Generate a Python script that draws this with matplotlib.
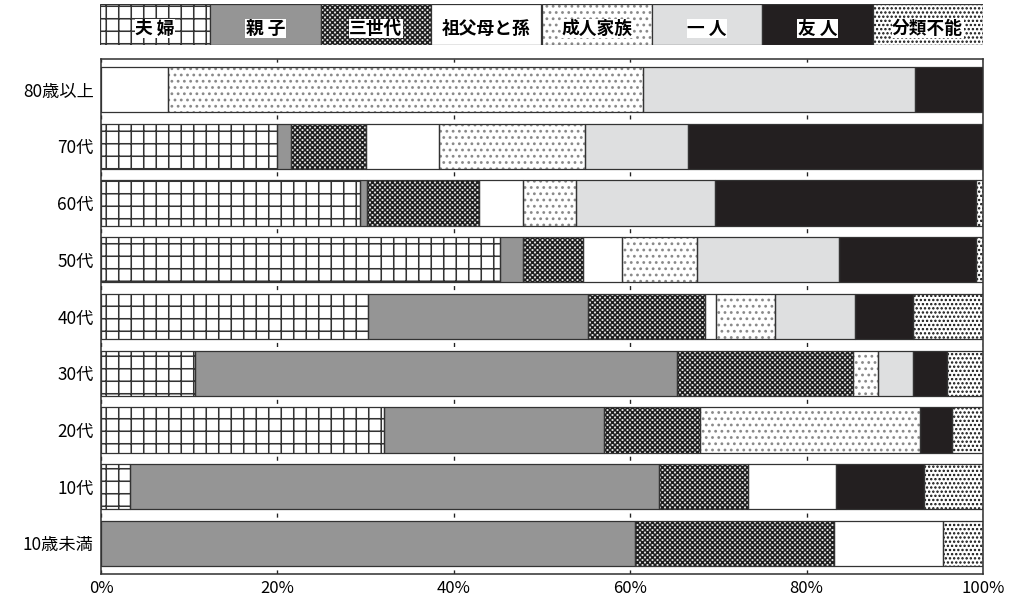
import numpy as np
import matplotlib.pyplot as plt

plt.rcParams['font.family'] = ['Noto Sans CJK JP', 'DejaVu Sans']
plt.rcParams['hatch.linewidth'] = 1.5

ages = ['80歳以上', '70代', '60代', '50代', '40代', '30代', '20代', '10代', '10歳未満']
series = ['夫婦', '親子', '三世代', '祖父母と孫', '成人家族', '一人', '友人', '分類不能']
legend_labels = ['夫 婦', '親 子', '三世代', '祖父母と孫', '成人家族', '一 人', '友 人', '分類不能']

fufu = [0, 20.0, 29.4, 45.2, 30.3, 10.7, 32.1, 3.3, 0]
oyako = [0, 1.5, 0.8, 2.6, 24.9, 54.6, 24.9, 60.0, 60.5]
sansedai = [0, 8.5, 12.7, 6.8, 13.3, 20.0, 10.9, 10.1, 22.6]
sofubo = [7.6, 8.3, 4.9, 4.5, 1.2, 0, 0, 9.9, 12.4]
seijin = [53.9, 16.6, 6.1, 8.5, 6.7, 2.8, 25.0, 0, 0]
hitori = [30.8, 11.7, 15.7, 16.1, 9.1, 4.0, 0, 0, 0]
yujin = [7.7, 33.4, 29.6, 15.5, 6.6, 3.8, 3.6, 10.0, 0]
bunrui = [0, 0, 0.8, 0.8, 7.9, 4.1, 3.5, 6.7, 4.5]

data = [fufu, oyako, sansedai, sofubo, seijin, hitori, yujin, bunrui]

# facecolor, hatch, hatch colour
styles = [
    ('white', '+', '#333333'),
    ('#959595', '', '#959595'),
    ('#e0e0e0', 'xxxxx', '#1e1e1e'),
    ('white', '', 'white'),
    ('white', '..', '#8a8a8a'),
    ('#dedfe0', '', '#dedfe0'),
    ('#231f20', '', '#231f20'),
    ('white', '...', '#111111'),
]
outline = '#333333'

fig = plt.figure(figsize=(1012 / 75, 604 / 75), dpi=75)
ax = fig.add_axes([101 / 1012, 1 - 574 / 604, 882 / 1012, 515 / 604])

y = np.arange(len(ages))
left = np.zeros(len(ages))
for vals, (fc, h, hc) in zip(data, styles):
    v = np.array(vals)
    m = v > 0
    ax.barh(y[m], v[m], left=left[m], height=0.8, color=fc, hatch=h,
            edgecolor=hc, linewidth=0, zorder=2)
    ax.barh(y[m], v[m], left=left[m], height=0.8, fill=False,
            edgecolor=outline, linewidth=1.2, zorder=3)
    left += v

ax.set_xlim(0, 100)
ax.set_ylim(len(ages) - 0.46, -0.54)
ax.set_yticks(y)
ax.set_yticklabels(ages, fontsize=16.5)
ax.set_xticks([0, 20, 40, 60, 80, 100])
ax.set_xticklabels(['0%', '20%', '40%', '60%', '80%', '100%'], fontsize=16)
ax.tick_params(axis='y', length=0, pad=7)
ax.tick_params(axis='x', length=0, pad=6)
ax.xaxis.grid(True, linestyle=(0, (3, 4)), color='#222222', linewidth=1.3)
ax.set_axisbelow(True)
for s in ax.spines.values():
    s.set_color('#333333')
    s.set_linewidth(1.5)

# legend row of boxes
lax = fig.add_axes([100 / 1012, 1 - 45 / 604, 883 / 1012, 41 / 604])
lx = np.arange(len(series))
for i, (fc, h, hc) in enumerate(styles):
    lax.bar(lx[i], 1, width=1, align='edge', color=fc, hatch=h,
            edgecolor=hc, linewidth=0)
    lax.bar(lx[i], 1, width=1, align='edge', fill=False,
            edgecolor=outline, linewidth=1.2)
    lax.text(lx[i] + 0.5, 0.6, legend_labels[i], ha='center', va='center',
             fontsize=17, fontweight='bold', color='black',
             bbox=dict(facecolor='white', edgecolor='none', pad=0.5))
lax.set_xlim(0, len(series))
lax.set_ylim(1, 0)
lax.axis('off')

fig.savefig('out.png', dpi=75)
